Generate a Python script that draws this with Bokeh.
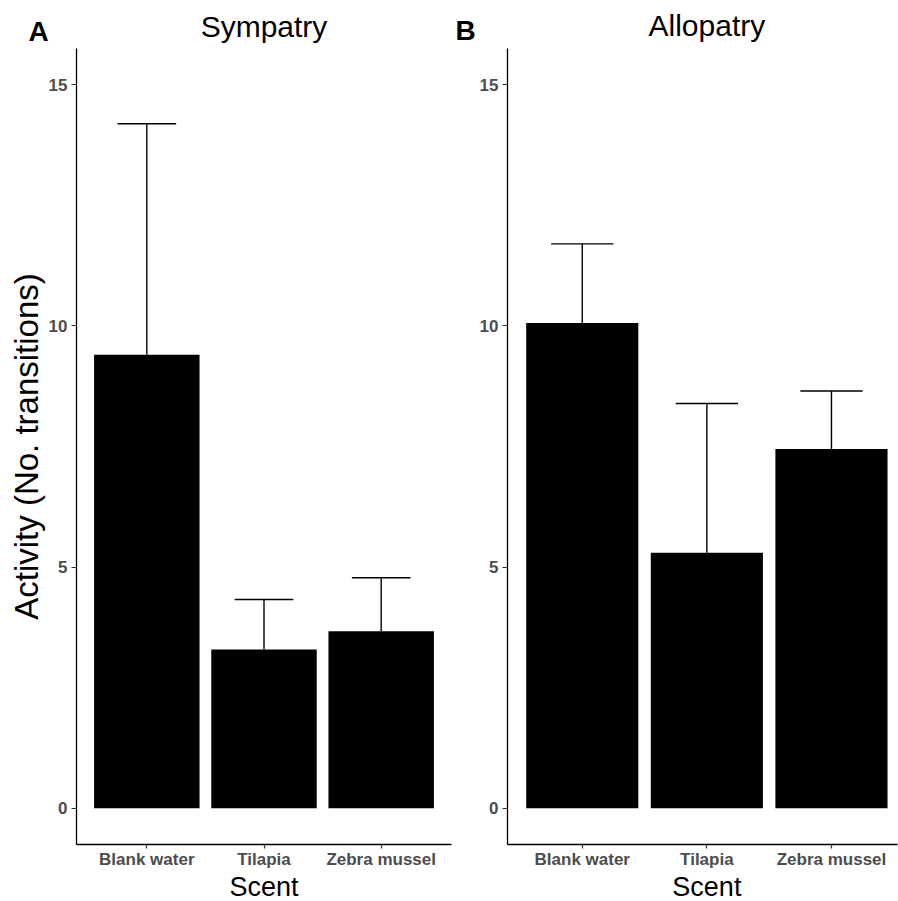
from bokeh.plotting import figure
from bokeh.layouts import row, column
from bokeh.models import Range1d, FixedTicker, ColumnDataSource
from bokeh.core.properties import value
from bokeh.embed import file_html
from bokeh.resources import INLINE

# ---- data ----
scents = ["Blank water", "Tilapia", "Zebra mussel"]
positions = [1, 2, 3]
sympatry_mean = [9.40, 3.29, 3.67]
sympatry_upper = [14.19, 4.33, 4.78]
allopatry_mean = [10.06, 5.30, 7.45]
allopatry_upper = [11.70, 8.39, 8.65]
y_ticks = [0, 5, 10, 15]
panel_titles = ["Sympatry", "Allopatry"]
panel_tags = ["A", "B"]
x_title = "Scent"
y_title = "Activity (No. transitions)"

FONT = "Liberation Sans"
Y_START, Y_END = -0.75, 15.75
X_START = 0.4

# ---- layout constants (pixels) ----
TOTAL_W = 898
HEADER_H = 48
FRAME_H = 797
PANEL_BOTTOM = 26
FOOTER_H = 901 - HEADER_H - FRAME_H - PANEL_BOTTOM
A_W, A_LEFT = 452, 76
B_W, B_LEFT = 446, 55
A_XEND, B_XEND = 3.6, 3.53


def make_panel(mean, upper, width, border_left, x_end, ylab):
    p = figure(width=width, height=FRAME_H + PANEL_BOTTOM, output_backend="svg",
               toolbar_location=None,
               x_range=Range1d(X_START, x_end), y_range=Range1d(Y_START, Y_END),
               min_border_left=border_left, min_border_right=1,
               min_border_top=0, min_border_bottom=PANEL_BOTTOM)
    p.outline_line_color = None
    p.xgrid.visible = False
    p.ygrid.visible = False
    p.background_fill_color = "white"
    p.border_fill_color = "white"

    src = ColumnDataSource(dict(x=positions, top=mean, up=upper,
                                xl=[v - 0.25 for v in positions],
                                xr=[v + 0.25 for v in positions]))
    p.vbar(x="x", top="top", bottom=0, width=0.9, source=src,
           fill_color="black", line_color=None)
    p.segment(x0="x", y0="top", x1="x", y1="up", source=src,
              line_color="black", line_width=1.4)
    p.segment(x0="xl", y0="up", x1="xr", y1="up", source=src,
              line_color="black", line_width=1.4)

    for ax in (p.xaxis[0], p.yaxis[0]):
        ax.axis_line_color = "black"
        ax.axis_line_width = 1.3
        ax.major_tick_line_color = "#333333"
        ax.major_tick_line_width = 1.2
        ax.major_tick_in = 0
        ax.minor_tick_line_color = None
        ax.major_label_text_font = FONT
        ax.major_label_text_font_style = "bold"
        ax.major_label_text_color = "#4D4D4D"
    p.yaxis.ticker = FixedTicker(ticks=y_ticks)
    p.yaxis.major_tick_out = 5
    p.yaxis.major_label_text_font_size = "17px"
    p.yaxis.major_label_standoff = 4
    p.xaxis.ticker = FixedTicker(ticks=positions)
    p.xaxis.major_tick_out = 4
    p.xaxis.major_label_overrides = {pos: name for pos, name in zip(positions, scents)}
    p.xaxis.major_label_text_font_size = "17px"
    p.xaxis.major_label_standoff = 1
    if ylab:
        p.yaxis.axis_label = y_title
        p.yaxis.axis_label_text_font = FONT
        p.yaxis.axis_label_text_font_size = "33px"
        p.yaxis.axis_label_text_font_style = "normal"
        p.yaxis.axis_label_text_color = "black"
        p.yaxis.axis_label_standoff = 1
    return p


def strip(height):
    f = figure(width=TOTAL_W, height=height, output_backend="svg", toolbar_location=None,
               x_range=Range1d(0, TOTAL_W), y_range=Range1d(height, 0),
               min_border_left=0, min_border_right=0, min_border_top=0,
               min_border_bottom=0)
    f.title.visible = False
    f.axis.visible = False
    f.grid.visible = False
    f.outline_line_color = None
    f.background_fill_color = "white"
    f.border_fill_color = "white"
    return f


pA = make_panel(sympatry_mean, sympatry_upper, A_W, A_LEFT, A_XEND, True)
pB = make_panel(allopatry_mean, allopatry_upper, B_W, B_LEFT, B_XEND, False)

# horizontal centres of the two panels' data ranges (x = 2.0)
a_scale = (A_W - A_LEFT - 1) / (A_XEND - X_START)
b_scale = (B_W - B_LEFT - 1) / (B_XEND - X_START)
a_mid = A_LEFT + (2.0 - X_START) * a_scale
b_mid = A_W + B_LEFT + (2.0 - X_START) * b_scale

header = strip(HEADER_H)
header.text(x=[a_mid, b_mid], y=[26, 25], text=panel_titles,
            text_font=value(FONT), text_font_size="30px", text_color="black",
            text_align="center", text_baseline="middle")
header.text(x=[28, A_W + 3], y=[31, 30], text=panel_tags,
            text_font=value(FONT), text_font_size="28px", text_font_style="bold",
            text_color="black", text_align="left", text_baseline="middle")

footer = strip(FOOTER_H)
footer.text(x=[a_mid, b_mid], y=[FOOTER_H / 2, FOOTER_H / 2], text=[x_title, x_title],
            text_font=value(FONT), text_font_size="27px", text_color="black",
            text_align="center", text_baseline="middle")

layout = column(header, row(pA, pB), footer)
open("out.html", "w").write(file_html(layout, INLINE))
